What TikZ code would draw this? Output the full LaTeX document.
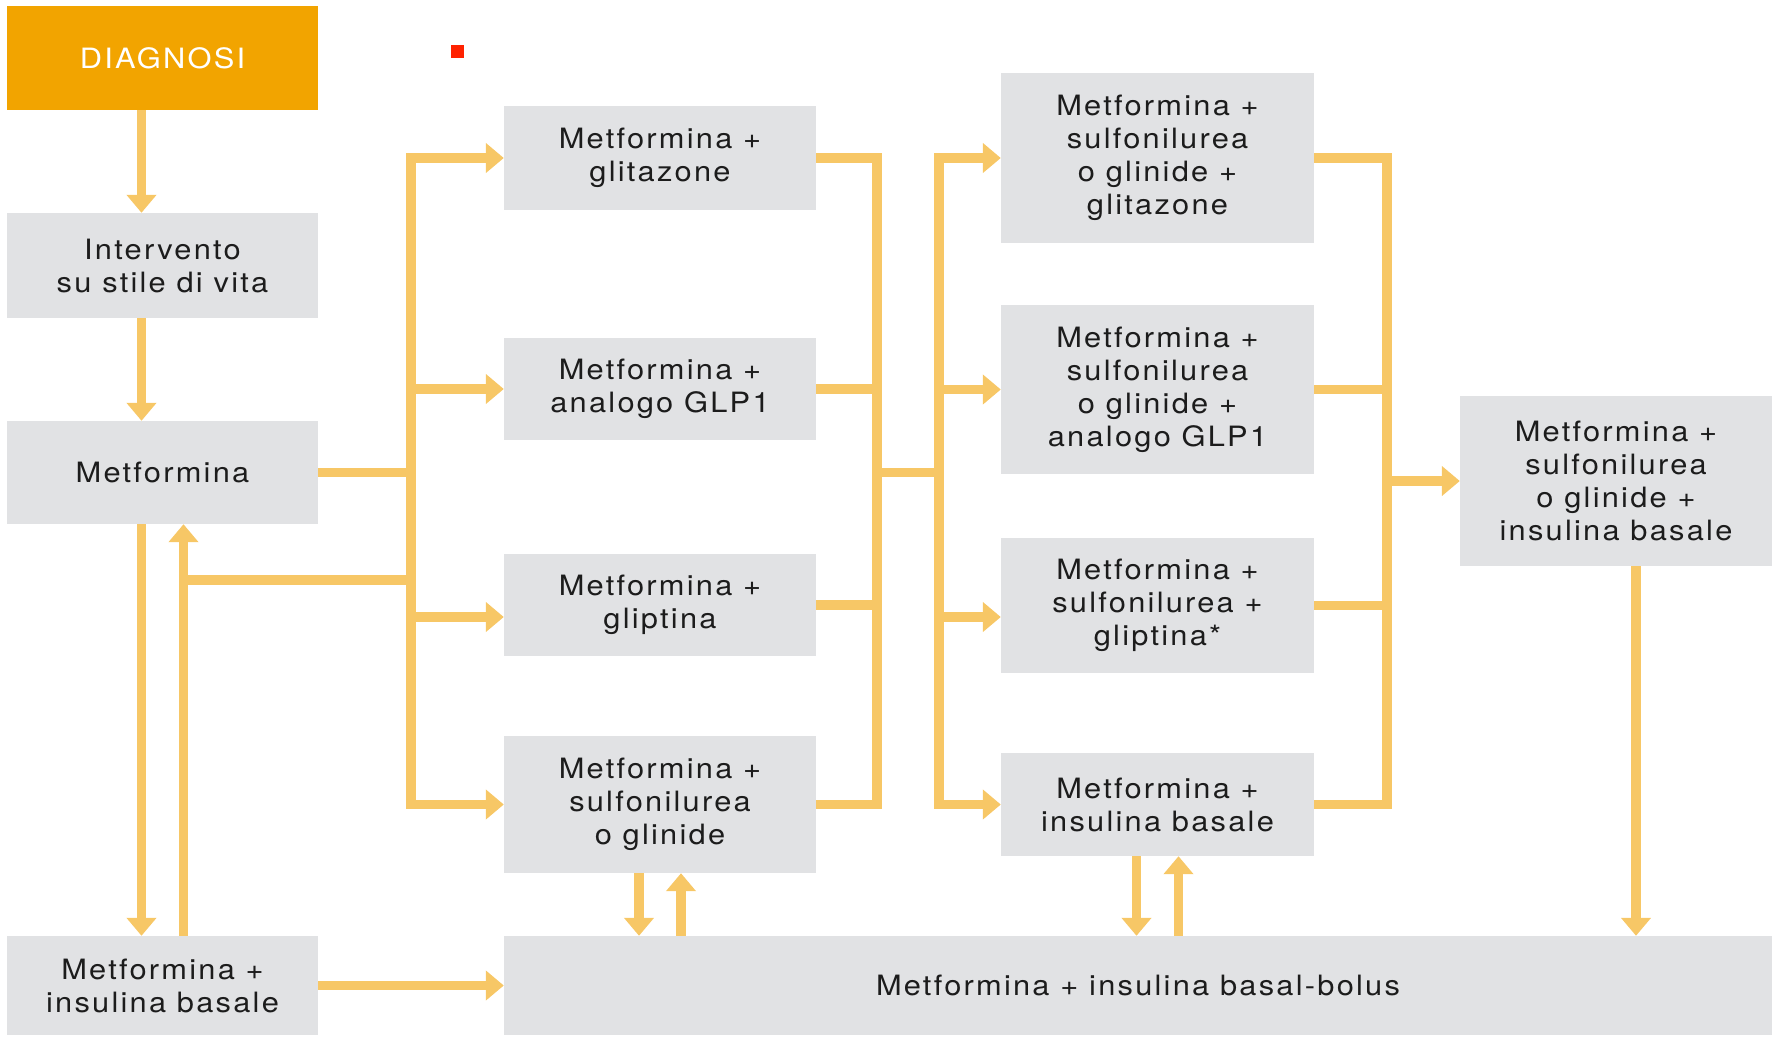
\documentclass[tikz,border=0pt]{standalone}
\usepackage{fontspec}
\setmainfont{TeX Gyre Heros}[LetterSpace=8,FakeStretch=1.1]
\usetikzlibrary{arrows.meta,calc}
\definecolor{lineor}{HTML}{F7C766}
\definecolor{diagor}{HTML}{F2A400}
\definecolor{boxgray}{HTML}{E1E2E4}
\definecolor{txt}{HTML}{1C1C1C}
\definecolor{redsq}{HTML}{FF2200}
\tikzset{
  box/.style={fill=boxgray, draw=none, text=txt, align=center, inner sep=0pt,
    font=\fontsize{28}{33}\selectfont},
  diagbox/.style={box, fill=diagor, text=white},
  ln/.style={draw=lineor, line width=9.5pt, line join=miter},
  arr/.style={ln, -{Triangle[width=29pt,length=18pt]}},
}
\begin{document}
\begin{tikzpicture}[x=1pt,y=-1pt]
\useasboundingbox (0,0) rectangle (1779,1037);
% nodes
\node[diagbox, minimum width=311pt, minimum height=104pt] (diag) at (162.5,58) {DIAGNOSI};
\node[box, minimum width=311pt, minimum height=105pt] (life) at (162.5,265.5) {Intervento\\su stile di vita};
\node[box, minimum width=311pt, minimum height=103pt] (met) at (162.5,472.5) {Metformina};
\node[box, minimum width=311pt, minimum height=99pt] (metins) at (162.5,985.5) {Metformina +\\insulina basale};
\node[box, minimum width=312pt, minimum height=104pt] (c2a) at (660,158) {Metformina +\\glitazone};
\node[box, minimum width=312pt, minimum height=102pt] (c2b) at (660,389) {Metformina +\\analogo GLP1};
\node[box, minimum width=312pt, minimum height=102pt] (c2c) at (660,605) {Metformina +\\gliptina};
\node[box, minimum width=312pt, minimum height=137pt] (c2d) at (660,804.5) {Metformina +\\sulfonilurea\\o glinide};
\node[box, minimum width=313pt, minimum height=170pt] (c3a) at (1157.5,158) {Metformina +\\sulfonilurea\\o glinide +\\glitazone};
\node[box, minimum width=313pt, minimum height=169pt] (c3b) at (1157.5,389.5) {Metformina +\\sulfonilurea\\o glinide +\\analogo GLP1};
\node[box, minimum width=313pt, minimum height=135pt] (c3c) at (1157.5,605.5) {Metformina +\\sulfonilurea +\\gliptina*};
\node[box, minimum width=313pt, minimum height=103pt] (c3d) at (1157.5,804.5) {Metformina +\\insulina basale};
\node[box, minimum width=312pt, minimum height=170pt] (c4) at (1616,481) {Metformina +\\sulfonilurea\\o glinide +\\insulina basale};
\node[box, minimum width=1268pt, minimum height=99pt] (bb) at (1138,985.5) {Metformina + insulina basal-bolus};
\fill[redsq] (451,45) rectangle (464,58);
% bus coordinates
\coordinate (b1) at (411,0);
\coordinate (b2) at (877,0);
\coordinate (b3) at (939,0);
\coordinate (b4) at (1387,0);
% left column
\draw[arr] ([xshift=-21pt]diag.south) -- ([xshift=-21pt]life.north);
\draw[arr] ([xshift=-21pt]life.south) -- ([xshift=-21pt]met.north);
\coordinate (mdn) at ([xshift=-21pt]met.south);
\coordinate (mup) at ([xshift=21pt]met.south);
\draw[arr] (mdn) -- (mdn |- metins.north);
\draw[arr] (mup |- metins.north) -- (mup);
\coordinate (back) at (0,580);
\draw[ln] (back -| b1) -- (back -| mup);
\draw[arr] (metins.east) -- (bb.west);
% bus 1
\draw[ln] (met.east) -- (met.east -| b1);
\draw[arr] (met.east -| b1) -- (c2a.west -| b1) -- (c2a.west);
\draw[arr] (met.east -| b1) -- (c2d.west -| b1) -- (c2d.west);
\draw[arr] (c2b.west -| b1) -- (c2b.west);
\coordinate (g2) at ($(c2c.west)+(0,12)$);
\draw[arr] (g2 -| b1) -- (g2);
% bus 2
\draw[ln] (c2a.east) -- (c2a.east -| b2) -- (c2d.east -| b2) -- (c2d.east);
\draw[ln] (c2b.east) -- (c2b.east -| b2);
\draw[ln] (c2c.east) -- (c2c.east -| b2);
\draw[ln] (met.east -| b2) -- (met.east -| b3);
% bus 3
\draw[arr] (met.east -| b3) -- (c3a.west -| b3) -- (c3a.west);
\draw[arr] (met.east -| b3) -- (c3d.west -| b3) -- (c3d.west);
\draw[arr] (c3b.west -| b3) -- (c3b.west);
\coordinate (g3) at ($(c3c.west)+(0,11.5)$);
\draw[arr] (g3 -| b3) -- (g3);
% bus 4
\draw[ln] (c3a.east) -- (c3a.east -| b4) -- (c3d.east -| b4) -- (c3d.east);
\draw[ln] (c3b.east) -- (c3b.east -| b4);
\draw[ln] (c3c.east) -- (c3c.east -| b4);
\draw[arr] (c4.west -| b4) -- (c4.west);
% down to basal-bolus
\draw[arr] ([xshift=20pt]c4.south) -- ([xshift=20pt]c4.south |- bb.north);
\draw[arr] ([xshift=-21pt]c2d.south) -- ([xshift=-21pt]c2d.south |- bb.north);
\draw[arr] ([xshift=21pt]c2d.south |- bb.north) -- ([xshift=21pt]c2d.south);
\draw[arr] ([xshift=-21pt]c3d.south) -- ([xshift=-21pt]c3d.south |- bb.north);
\draw[arr] ([xshift=21pt]c3d.south |- bb.north) -- ([xshift=21pt]c3d.south);
\end{tikzpicture}
\end{document}
